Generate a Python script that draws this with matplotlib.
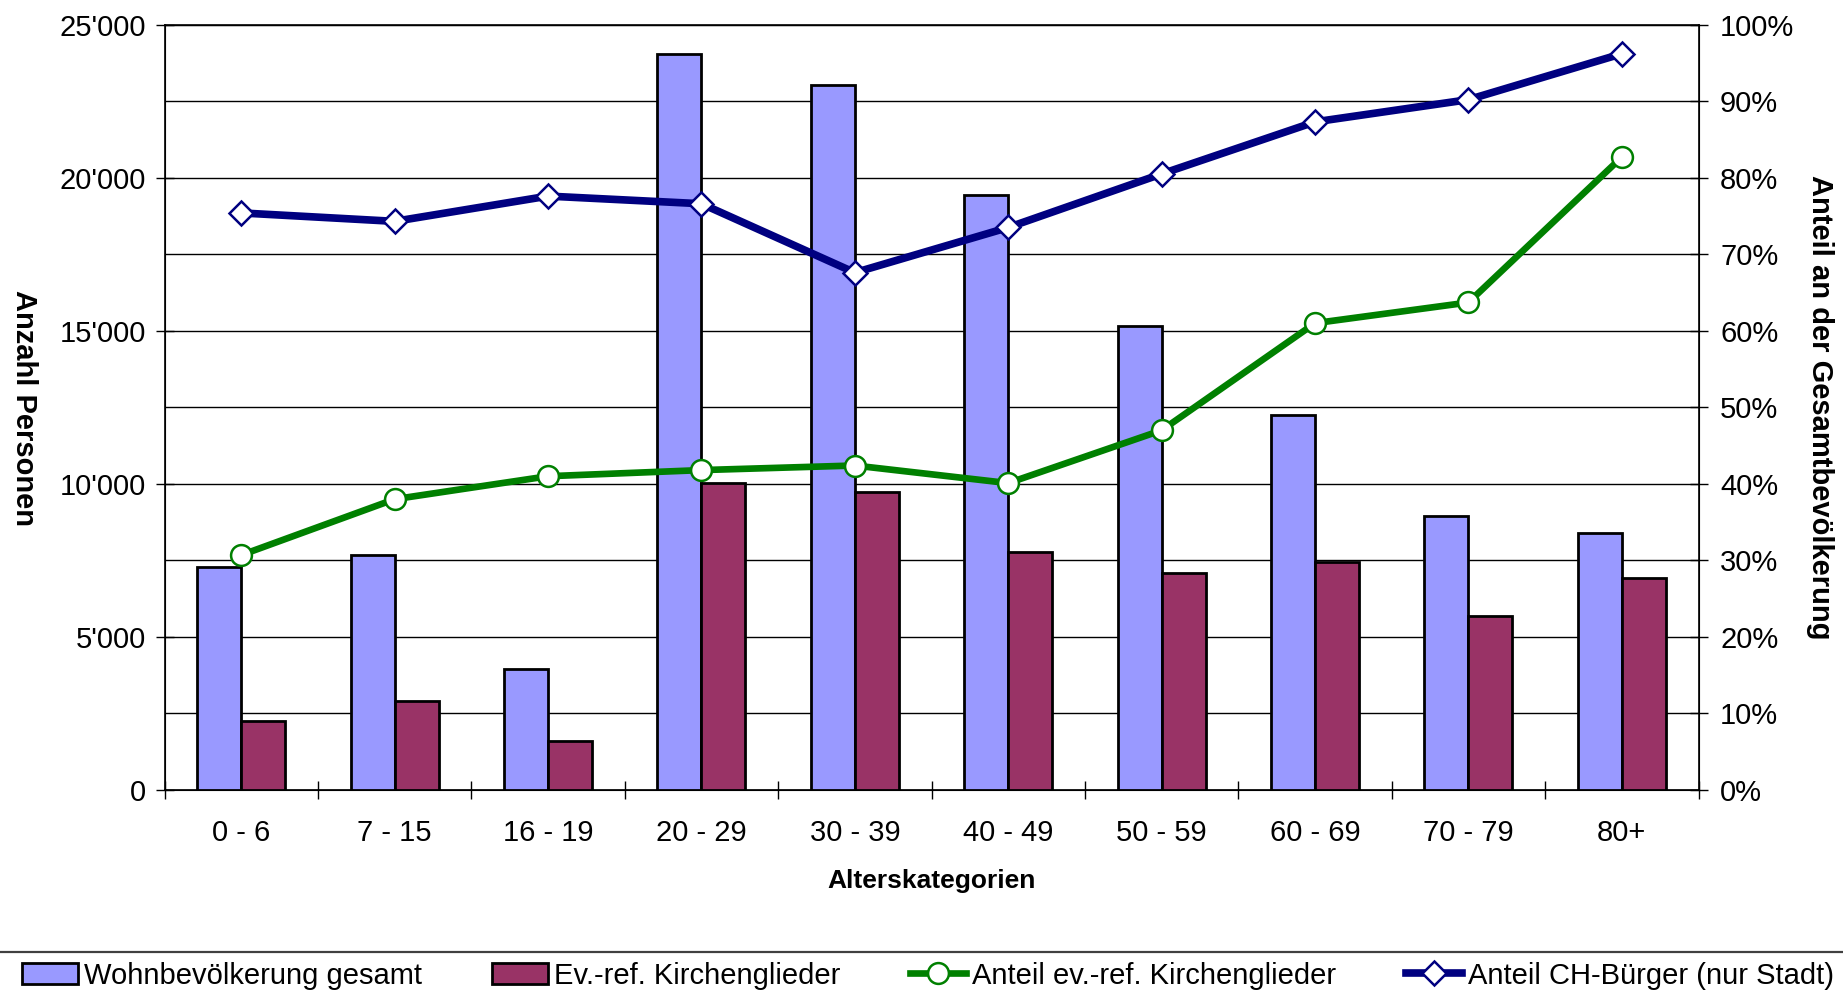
import numpy as np
import matplotlib
matplotlib.use('Agg')
from matplotlib import pyplot as plt
from matplotlib.ticker import FuncFormatter, MultipleLocator
from matplotlib.lines import Line2D

plt.rcParams['font.family'] = ['Liberation Sans', 'DejaVu Sans']

kategorien = ['0 - 6', '7 - 15', '16 - 19', '20 - 29', '30 - 39',
              '40 - 49', '50 - 59', '60 - 69', '70 - 79', '80+']
wohnbev = [7300, 7680, 3960, 24040, 23030, 19440, 15170, 12250, 8960, 8400]
kirchenglieder = [2270, 2920, 1610, 10040, 9750, 7760, 7090, 7460, 5690, 6935]
anteil_ref = [30.7, 38.0, 41.0, 41.8, 42.4, 40.1, 47.0, 61.0, 63.7, 82.7]
anteil_ch = [75.4, 74.3, 77.6, 76.6, 67.6, 73.5, 80.5, 87.3, 90.2, 96.2]

FS = 21
x = np.arange(len(kategorien))
w = 0.287

fig = plt.figure(figsize=(18.43, 9.94), dpi=100)
ax = fig.add_axes([0.0893, 0.2052, 0.8323, 0.7700])

ax.bar(x - w / 2, wohnbev, w, color='#9999FF', edgecolor='black', linewidth=2.0,
       label='Wohnbevölkerung gesamt', zorder=3)
ax.bar(x + w / 2, kirchenglieder, w, color='#993366', edgecolor='black', linewidth=2.0,
       label='Ev.-ref. Kirchenglieder', zorder=3)

ax.set_xlim(-0.5, len(kategorien) - 0.5)
ax.set_ylim(0, 25000)
ax.yaxis.set_major_locator(MultipleLocator(5000))
ax.yaxis.set_minor_locator(MultipleLocator(2500))
ax.yaxis.set_major_formatter(FuncFormatter(lambda v, p: '0' if v == 0 else "%d'%03d" % (v // 1000, v % 1000)))
ax.grid(axis='y', which='both', color='black', linewidth=1.0, zorder=0)
ax.set_axisbelow(True)

# category boundaries carry the ticks, labels sit in the middle
ax.set_xticks(np.arange(-0.5, len(kategorien), 1.0))
ax.set_xticklabels([])
ax.set_xticks(x, minor=True)
ax.set_xticklabels(kategorien, minor=True, fontsize=FS)
ax.tick_params(axis='x', which='major', direction='inout', length=13, width=1)
ax.tick_params(axis='x', which='minor', length=0, pad=21)
ax.tick_params(axis='y', which='major', direction='inout', length=13, width=1, labelsize=FS, pad=7)
ax.tick_params(axis='y', which='minor', length=0)
for s in ['left', 'right', 'bottom', 'top']:
    ax.spines[s].set_linewidth(1.2)

ax2 = ax.twinx()
ax2.set_ylim(0, 100)
ax2.yaxis.set_major_locator(MultipleLocator(10))
ax2.yaxis.set_major_formatter(FuncFormatter(lambda v, p: '%d%%' % v))
ax2.tick_params(axis='y', direction='inout', length=13, width=1, labelsize=FS, pad=9)
ax2.plot(x, anteil_ref, color='#008000', linewidth=4.8, marker='o', markersize=15,
         markerfacecolor='white', markeredgecolor='#008000', markeredgewidth=1.8,
         label='Anteil ev.-ref. Kirchenglieder', zorder=4)
ax2.plot(x, anteil_ch, color='#000080', linewidth=5.5, marker='D', markersize=12,
         markerfacecolor='white', markeredgecolor='#000080', markeredgewidth=1.8,
         label='Anteil CH-Bürger (nur Stadt)', zorder=5)

fig.text(0.0128, 0.590, 'Anzahl Personen', rotation=270, fontsize=21, fontweight='bold',
         ha='center', va='center')
fig.text(0.9875, 0.590, 'Anteil an der Gesamtbevölkerung', rotation=270, fontsize=21,
         fontweight='bold', ha='center', va='center')
fig.text(0.5054, 0.1137, 'Alterskategorien', fontsize=19, fontweight='bold',
         ha='center', va='center')

# legend strip at the bottom
fig.add_artist(Line2D([0, 1], [0.0423, 0.0423], color='#404040', linewidth=1.6))
h1, l1 = ax.get_legend_handles_labels()
h2, l2 = ax2.get_legend_handles_labels()
fig.legend(h1 + h2, l1 + l2, loc='center', bbox_to_anchor=(0.5036, 0.0185), ncol=4,
           fontsize=FS, frameon=False, handlelength=1.92, handletextpad=0.2,
           columnspacing=2.4, borderaxespad=0, borderpad=0)

fig.savefig('out.png', dpi=100)
